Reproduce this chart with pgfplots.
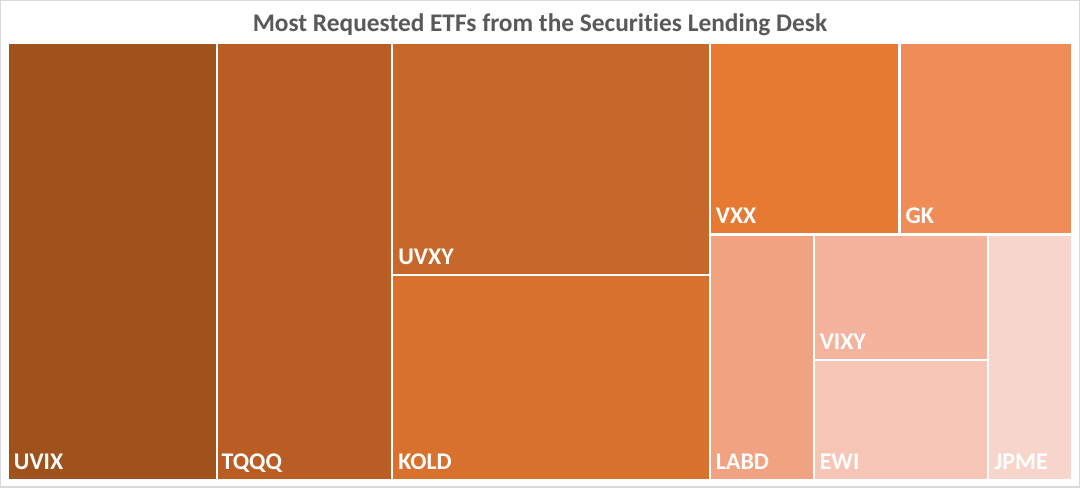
\documentclass[border=0pt]{standalone}
\usepackage{pgfplots}
\pgfplotsset{compat=1.18}
\usepackage{fontspec}
\setmainfont{Carlito}[Ligatures=NoCommon]
\definecolor{cUVIX}{HTML}{A0521D}
\definecolor{cTQQQ}{HTML}{B95D25}
\definecolor{cUVXY}{HTML}{C6682A}
\definecolor{cKOLD}{HTML}{D8712E}
\definecolor{cVXX}{HTML}{E77A33}
\definecolor{cGK}{HTML}{EF8C57}
\definecolor{cLABD}{HTML}{F1A280}
\definecolor{cVIXY}{HTML}{F4B39C}
\definecolor{cEWI}{HTML}{F6C5B5}
\definecolor{cJPME}{HTML}{F7D5CB}
\definecolor{titlegray}{HTML}{595959}
\definecolor{framegray}{HTML}{D9D9D9}
\tikzset{
  tile/.style={draw=white, line width=2.2bp},
  lab/.style={anchor=base west, text=white, font=\bfseries\fontsize{24}{24}\selectfont, inner sep=0pt},
}
\begin{document}
\begin{tikzpicture}
\begin{axis}[
  width=1080bp, height=487bp, scale only axis,
  xmin=0, xmax=1080, ymin=0, ymax=487, y dir=reverse,
  xtick=\empty, ytick=\empty,
  axis line style={draw=framegray, line width=1.5bp},
  clip=false,
]
% tiles: (x1,y1) (x2,y1) (x2,y2) (x1,y2) in pixel units
\addplot[tile, fill=cUVIX] coordinates {(7,42) (216.5,42) (216.5,480) (7,480)} -- cycle;
\addplot[tile, fill=cTQQQ] coordinates {(216.5,42) (392,42) (392,480) (216.5,480)} -- cycle;
\addplot[tile, fill=cUVXY] coordinates {(392,42) (710,42) (710,275) (392,275)} -- cycle;
\addplot[tile, fill=cKOLD] coordinates {(392,275) (710,275) (710,480) (392,480)} -- cycle;
\addplot[tile, fill=cVXX] coordinates {(710,42) (900,42) (900,234) (710,234)} -- cycle;
\addplot[tile, fill=cGK] coordinates {(900,42) (1073,42) (1073,234) (900,234)} -- cycle;
\addplot[tile, fill=cLABD] coordinates {(710,234) (814,234) (814,480) (710,480)} -- cycle;
\addplot[tile, fill=cVIXY] coordinates {(814,234) (989,234) (989,360) (814,360)} -- cycle;
\addplot[tile, fill=cEWI] coordinates {(814,360) (989,360) (989,480) (814,480)} -- cycle;
\addplot[tile, fill=cJPME] coordinates {(989,234) (1073,234) (1073,480) (989,480)} -- cycle;
% labels
\node[lab] at (axis cs:13,469) {UVIX};
\node[lab] at (axis cs:221,469) {TQQQ};
\node[lab] at (axis cs:398,264) {UVXY};
\node[lab] at (axis cs:398,469) {KOLD};
\node[lab] at (axis cs:716,223) {VXX};
\node[lab] at (axis cs:906,223) {GK};
\node[lab] at (axis cs:716,469) {LABD};
\node[lab] at (axis cs:820,349) {VIXY};
\node[lab] at (axis cs:820,469) {EWI};
\node[lab] at (axis cs:995,469) {JPME};
% title
\node[anchor=base, text=titlegray, font=\bfseries\fontsize{25.5}{25.5}\selectfont, inner sep=0pt] at (axis cs:540,31) {Most Requested ETFs from the Securities Lending Desk};
\end{axis}
\end{tikzpicture}
\end{document}
